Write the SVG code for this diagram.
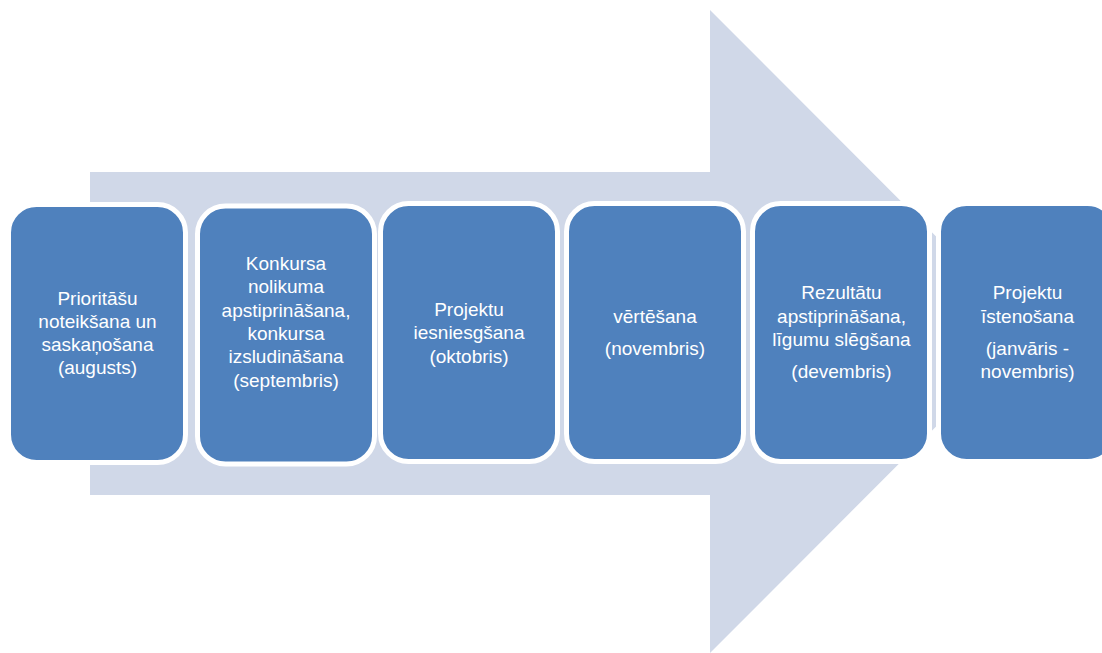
<svg xmlns="http://www.w3.org/2000/svg" width="1102" height="653" viewBox="0 0 1102 653">
<style>
.box{fill:#4F81BD;stroke:#FFFFFF;stroke-width:5}
.t{font-family:"Liberation Sans",Arial,sans-serif;font-size:19px;fill:#FFFFFF;text-anchor:middle}
</style>
<rect width="1102" height="653" fill="#FFFFFF"/>
<g id="arrow">
<polygon points="90,172 710,172 710,10 1031,331.5 710,653 710,495 90,495" fill="#D0D8E8"/>
</g>
<g id="connectors"></g>
<g id="node1">
<rect class="box" x="8.5" y="204.5" width="177" height="258" rx="28"/>
<text class="t"><tspan x="97.5" y="305">Prioritāšu</tspan><tspan x="97.5" y="328">noteikšana un</tspan><tspan x="97.5" y="351">saskaņošana</tspan><tspan x="97.5" y="374">(augusts)</tspan></text>
</g>
<g id="node2">
<rect class="box" x="197.5" y="206" width="177" height="258" rx="28"/>
<text class="t"><tspan x="286" y="270">Konkursa</tspan><tspan x="286" y="293.3">nolikuma</tspan><tspan x="286" y="316.6">apstiprināšana,</tspan><tspan x="286" y="339.9">konkursa</tspan><tspan x="286" y="363.2">izsludināšana</tspan><tspan x="286" y="386.5">(septembris)</tspan></text>
</g>
<g id="node3">
<rect class="box" x="380.5" y="203.5" width="177" height="258" rx="28"/>
<text class="t"><tspan x="469" y="316">Projektu</tspan><tspan x="469" y="339.3">iesniesgšana</tspan><tspan x="469" y="362.6">(oktobris)</tspan></text>
</g>
<g id="node4">
<rect class="box" x="566.5" y="203.5" width="177" height="258" rx="28"/>
<text class="t"><tspan x="655" y="322.7">vērtēšana</tspan><tspan x="655" y="355">(novembris)</tspan></text>
</g>
<g id="node5">
<rect class="box" x="752.5" y="203.5" width="177" height="258" rx="28"/>
<text class="t"><tspan x="841.5" y="299.3">Rezultātu</tspan><tspan x="841.5" y="322.6">apstiprināšana,</tspan><tspan x="841.5" y="345.9">līgumu slēgšana</tspan><tspan x="841.5" y="378.3">(devembris)</tspan></text>
</g>
<g id="node6">
<rect class="box" x="938.5" y="203.5" width="177" height="258" rx="28"/>
<text class="t"><tspan x="1027.5" y="299.3">Projektu</tspan><tspan x="1027.5" y="322.6">īstenošana</tspan><tspan x="1027.5" y="355">(janvāris -</tspan><tspan x="1027.5" y="378.3">novembris)</tspan></text>
</g>
</svg>
